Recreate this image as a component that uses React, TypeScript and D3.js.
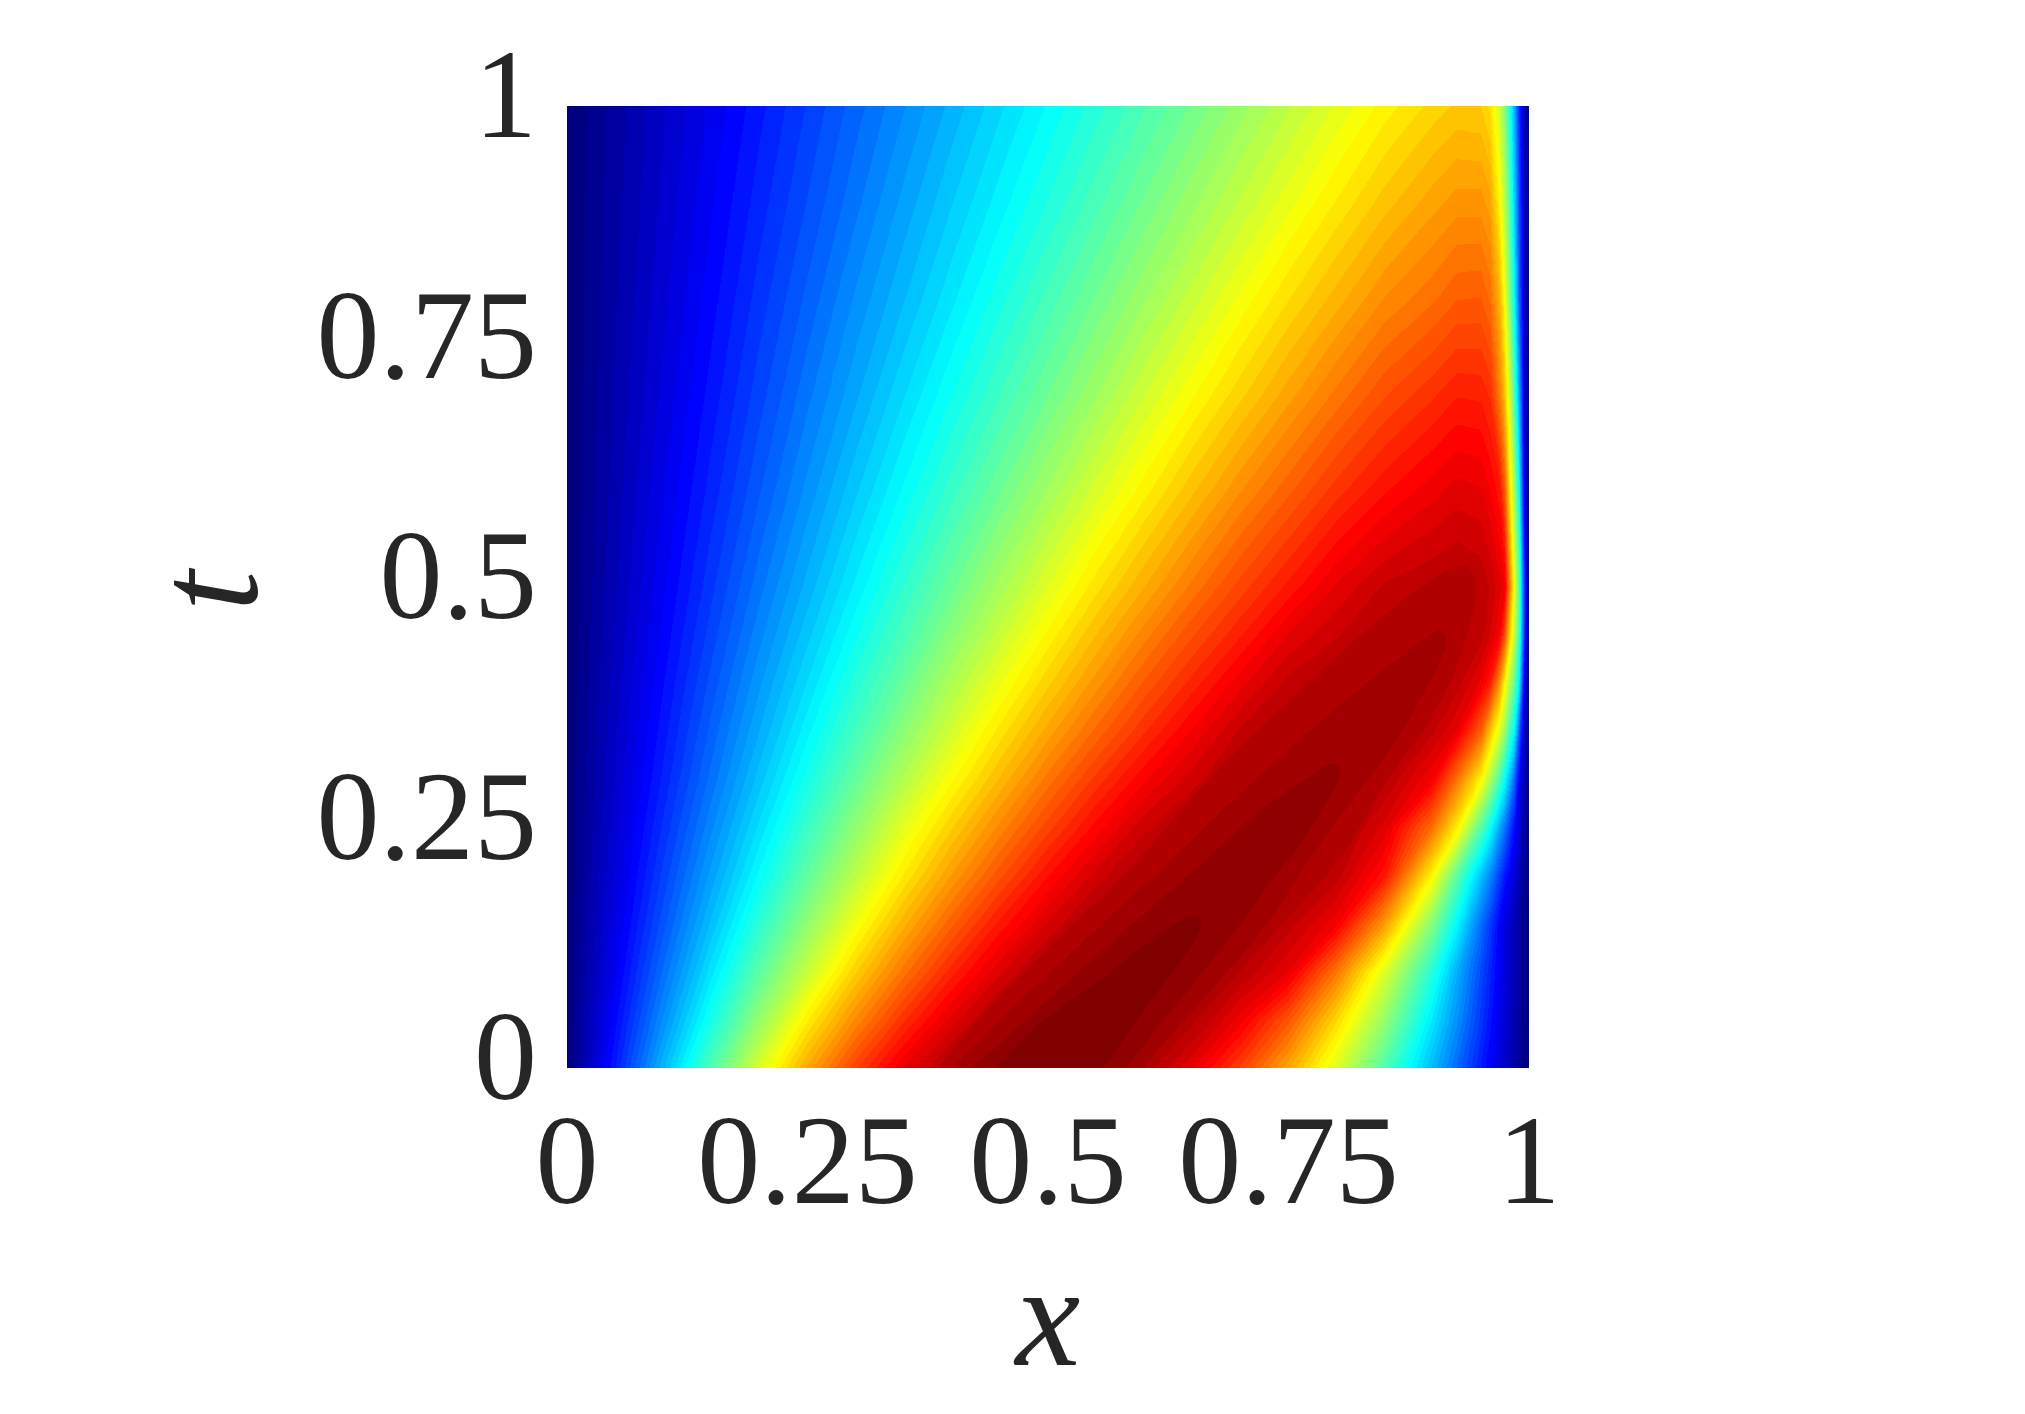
import React, { useMemo } from "react";
import * as d3 from "d3";

const xGrid = [0,.05,.1,.15,.2,.25,.3,.35,.4,.45,.5,.55,.6,.65,.7,.75,.8,.85,.9,.925,.95,.96,.97,.975,.98,.985,.99,.995,1];
const tGrid = [0,.05,.1,.15,.2,.25,.3,.35,.4,.45,.5,.6,.7,.8,.9,1];

const t000 = [0,.156,.309,.454,.588,.707,.809,.891,.951,.988,1,.988,.951,.891,.809,.707,.588,.454,.309,.233,.156,.125,.094,.078,.063,.047,.031,.016,0];
const t005 = [0,.135,.268,.397,.52,.638,.737,.825,.897,.952,.98,.996,.982,.949,.882,.788,.66,.52,.355,.27,.182,.145,.108,.09,.07,.053,.035,.017,0];
const t010 = [0,.119,.237,.353,.465,.57,.669,.758,.837,.903,.955,.981,.991,.973,.9375,.89,.755,.59,.41,.3,.2,.16,.12,.1,.08,.06,.04,.02,0];
const t015 = [0,.106,.212,.316,.419,.516,.61,.698,.777,.849,.908,.955,.978,.9855,.969,.93,.88,.72,.5,.375,.24,.185,.125,.1,.08,.06,.04,.02,0];
const t020 = [0,.096,.192,.287,.379,.47,.558,.642,.72,.792,.858,.913,.955,.978,.981,.958,.93,.85,.625,.465,.32,.26,.19,.15,.125,.09,.06,.03,0];
const t025 = [0,.088,.175,.262,.348,.432,.515,.597,.67,.74,.806,.866,.917,.948,.967,.976,.951,.9,.76,.64,.46,.385,.29,.245,.19,.14,.09,.045,0];
const t030 = [0,.08,.16,.24,.32,.398,.474,.55,.622,.69,.757,.818,.872,.915,.945,.961,.971,.94,.875,.76,.632,.54,.44,.38,.31,.23,.125,.06,0];
const t035 = [0,.075,.149,.224,.297,.37,.441,.51,.58,.647,.71,.77,.826,.877,.925,.948,.961,.96,.925,.89,.78,.68,.585,.52,.44,.37,.22,.09,0];
const t040 = [0,.07,.139,.209,.278,.345,.413,.477,.545,.607,.668,.727,.784,.835,.885,.928,.945,.957,.952,.93,.885,.84,.72,.625,.55,.47,.36,.125,0];
const t045 = [0,.065,.13,.195,.26,.323,.387,.447,.51,.57,.63,.688,.743,.795,.842,.892,.92,.943,.953,.952,.93,.905,.87,.79,.67,.56,.43,.19,0];
const t050 = [0,.06,.122,.183,.244,.303,.363,.422,.48,.538,.594,.65,.703,.755,.804,.849,.893,.925,.937,.943,.935,.92,.895,.88,.75,.6,.46,.2,0];
const t060 = [0,.054,.109,.163,.217,.271,.325,.378,.43,.483,.533,.585,.634,.684,.733,.777,.821,.857,.885,.898,.893,.875,.85,.78,.65,.53,.375,.125,0];
const t070 = [0,.049,.098,.147,.196,.245,.293,.342,.39,.437,.484,.53,.577,.622,.667,.712,.755,.795,.825,.842,.84,.825,.745,.68,.58,.45,.29,.1,0];
const t080 = [0,.045,.089,.134,.179,.223,.268,.311,.355,.4,.443,.486,.528,.57,.613,.655,.695,.735,.762,.78,.782,.762,.69,.61,.5,.375,.22,.09,0];
const t090 = [0,.041,.082,.123,.164,.204,.245,.286,.327,.367,.407,.447,.487,.526,.565,.603,.642,.68,.712,.726,.726,.71,.625,.55,.46,.33,.2,.08,0];
const t100 = [0,.038,.076,.113,.151,.189,.227,.264,.302,.34,.377,.414,.451,.487,.524,.56,.596,.632,.662,.675,.672,.65,.57,.5,.41,.3,.17,.07,0];
const fieldRows = [t000,t005,t010,t015,t020,t025,t030,t035,t040,t045,t050,t060,t070,t080,t090,t100];

// Outlines [x, t] of the four darkest bands.
const tongue60 = [[.376,-.02],[.386,0],[.45,.075],[.5925,.216],[.667,.3],[.796,.424],[.88,.495],[.921,.52],[.933,.522],[.943,.512],[.945,.493],[.938,.459],[.921,.407],[.89,.351],[.855,.303],[.805,.22],[.735,.14],[.612,0],[.6,-.02]];
const tongue61 = [[.392,-.02],[.402,0],[.45,.05],[.627,.216],[.693,.279],[.797,.372],[.9,.452],[.908,.455],[.914,.447],[.912,.434],[.887,.383],[.858,.334],[.817,.279],[.776,.223],[.72,.14],[.6,0],[.59,-.02]];
const tongue62 = [[.41,-.02],[.421,0],[.45,.026],[.589,.151],[.668,.22],[.734,.279],[.775,.305],[.793,.316],[.802,.313],[.803,.302],[.776,.255],[.753,.22],[.741,.206],[.693,.14],[.582,0],[.57,-.02]];
const tongue63 = [[.43,-.02],[.445,0],[.492,.047],[.554,.0915],[.616,.14],[.642,.155],[.655,.158],[.659,.15],[.653,.133],[.623,.092],[.558,0],[.545,-.02]];
const tongues = [tongue60, tongue61, tongue62, tongue63];

const tickValues = [0,.25,.5,.75,1];
const tickLabels = ["0","0.25","0.5","0.75","1"];
const bandCount = 64;

const FONT = "'Liberation Serif', serif";
const INK = "#262626";
const clamp01 = (v: number) => Math.max(0, Math.min(1, v));
function jet(k: number) {
  const t = k / (bandCount - 1);
  const c = (o: number) => Math.round(255 * clamp01(1.5 - Math.abs(4 * t - o)));
  return `rgb(${c(3)},${c(2)},${c(1)})`;
}

export default function App() {
  const x = d3.scaleLinear().domain([0, 1]).range([567, 1529]);
  const y = d3.scaleLinear().domain([0, 1]).range([1068, 106]);
  const bands = useMemo(() => {
    const nx = xGrid.length, ny = tGrid.length;
    const flat = fieldRows.flat();
    const thresholds = d3.range(1, bandCount - tongues.length).map((k) => k / bandCount);
    const fx = d3.scaleLinear().domain(xGrid.map((_, i) => i + 0.5)).range(xGrid.map((v) => x(v))).clamp(true);
    const fy = d3.scaleLinear().domain(tGrid.map((_, i) => i + 0.5)).range(tGrid.map((v) => y(v))).clamp(true);
    const gen = d3.contours().size([nx, ny]).smooth(true).thresholds(thresholds);
    return gen(flat).map((g: any, i: number) => ({
      fill: jet(i + 1),
      d: g.coordinates
        .map((poly: number[][][]) =>
          poly.map((ring) => "M" + ring.map(([a, b]) => `${fx(a).toFixed(2)},${fy(b).toFixed(2)}`).join("L") + "Z").join("")
        )
        .join(""),
    }));
  }, []);
  const outline = d3.line<number[]>().x((p) => x(p[0])).y((p) => y(p[1])).curve(d3.curveCatmullRomClosed.alpha(0.5));
  return (
    <svg width={2025} height={1414} style={{ position: "absolute", left: 0, top: 0, background: "#fff" }}>
      <defs>
        <clipPath id="plot"><rect x={x(0)} y={y(1)} width={x(1) - x(0)} height={y(0) - y(1)} /></clipPath>
      </defs>
      <g clipPath="url(#plot)">
        <rect x={x(0)} y={y(1)} width={x(1) - x(0)} height={y(0) - y(1)} fill={jet(0)} />
        {bands.map((b: any, i: number) => (
          <path key={i} d={b.d} fill={b.fill} fillRule="evenodd" shapeRendering="crispEdges" />
        ))}
        {tongues.map((pts, i) => (
          <path key={"t" + i} d={outline(pts) as string} fill={jet(bandCount - tongues.length + i)} shapeRendering="crispEdges" />
        ))}
      </g>
      <g fontFamily={FONT} fontSize={126} fill={INK}>
        {tickValues.map((v, i) => (
          <text key={"x" + i} x={x(v)} y={1203} textAnchor="middle">{tickLabels[i]}</text>
        ))}
        {tickValues.map((v, i) => (
          <text key={"y" + i} x={537} y={y(v) + 31} textAnchor="end">{tickLabels[i]}</text>
        ))}
      </g>
      <text x={1048} y={1365} textAnchor="middle" fontFamily={FONT} fontStyle="italic" fontSize={146} fill={INK}>x</text>
      <text transform="translate(257,591) rotate(-90)" textAnchor="middle" fontFamily={FONT} fontStyle="italic" fontSize={146} fill={INK}>t</text>
    </svg>
  );
}
